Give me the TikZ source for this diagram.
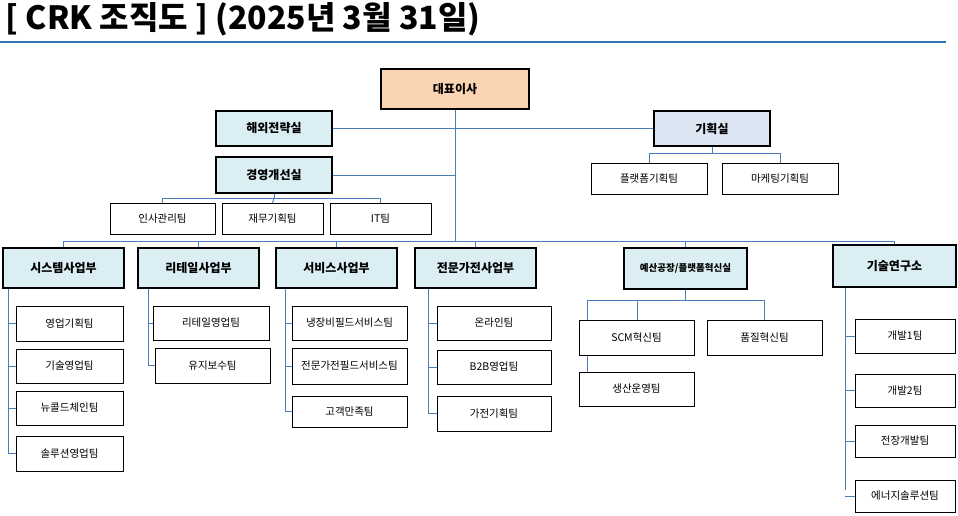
\documentclass[tikz,border=0pt]{standalone}
\usepackage{fontspec}
\setmainfont{Noto Sans CJK KR}
\usetikzlibrary{backgrounds}
\definecolor{lnc}{HTML}{4A7EBB}
\definecolor{peach}{HTML}{FBD4B4}
\definecolor{lb}{HTML}{DAEEF3}
\definecolor{lb2}{HTML}{DCE6F2}
\definecolor{titleline}{HTML}{2E75B6}
\newcommand\bx[7]{\node[#1,minimum width={(#4-#3)*1pt},minimum height={(#6-#5)*1pt}] (#2) at ({(#3+#4)/2},{(#5+#6)/2}) {#7};}
\tikzset{
 head/.style={draw=black,line width=2.4pt,fill=lb,inner sep=0,outer sep=0,font=\bfseries\fontsize{12}{14}\selectfont},
 ceob/.style={head,fill=peach},
 team/.style={draw=black,line width=0.9pt,fill=white,inner sep=0,outer sep=0,font=\fontsize{10.5}{12}\selectfont},
 ln/.style={draw=lnc,line width=1pt}
}
\begin{document}
\begin{tikzpicture}[x=1pt,y=-1pt]
\useasboundingbox (0,0) rectangle (958,516);
\node[anchor=west,font=\bfseries\fontsize{32}{36}\selectfont] (title) at (2,19) {[ CRK 조직도 ] (2025년 3월 31일)};
\draw[titleline,line width=2.5pt] (0,42) -- (946,42);
% top
\bx{ceob}{ceo}{381}{529}{69}{109}{대표이사}
\bx{head}{hw}{216}{332}{111}{146}{해외전략실}
\bx{head}{gy}{216}{332}{157}{193}{경영개선실}
\bx{head,fill=lb2}{pl}{654}{770}{111}{146}{기획실}
\bx{team}{pf}{591}{707}{163}{194}{플랫폼기획팀}
\bx{team}{mk}{722}{838}{163}{194}{마케팅기획팀}
\bx{team}{hr}{110}{215}{203}{234}{인사관리팀}
\bx{team}{fin}{222}{323}{203}{234}{재무기획팀}
\bx{team}{it}{330}{431}{203}{234}{IT팀}
% divisions
\bx{head}{sys}{3}{124}{248}{288}{시스템사업부}
\bx{head}{ret}{138}{259}{248}{288}{리테일사업부}
\bx{head}{svc}{276}{397}{248}{288}{서비스사업부}
\bx{head}{app}{415}{536}{248}{288}{전문가전사업부}
\bx{head,font=\bfseries\fontsize{9.5}{11}\selectfont}{fac}{624}{747}{248}{289}{예산공장/플랫폼혁신실}
\bx{head}{lab}{833}{956}{245}{287}{기술연구소}
% teams
\bx{team}{s1}{16}{123}{306}{341}{영업기획팀}
\bx{team}{s2}{16}{123}{349}{383}{기술영업팀}
\bx{team}{s3}{16}{123}{391}{425}{뉴콜드체인팀}
\bx{team}{s4}{16}{123}{436}{471}{솔루션영업팀}
\bx{team}{r1}{153}{269}{306}{340}{리테일영업팀}
\bx{team}{r2}{155}{270}{348}{383}{유지보수팀}
\bx{team}{v1}{292}{407}{306}{340}{냉장비필드서비스팀}
\bx{team}{v2}{292}{407}{348}{384}{전문가전필드서비스팀}
\bx{team}{v3}{292}{407}{396}{427}{고객만족팀}
\bx{team}{a1}{437}{551}{306}{340}{온라인팀}
\bx{team}{a2}{437}{551}{350}{384}{B2B영업팀}
\bx{team}{a3}{437}{551}{396}{431}{가전기획팀}
\bx{team}{f1}{579}{694}{320}{355}{SCM혁신팀}
\bx{team}{f2}{707}{822}{320}{355}{품질혁신팀}
\bx{team}{f3}{579}{694}{372}{406}{생산운영팀}
\bx{team}{l1}{855}{955}{319}{353}{개발1팀}
\bx{team}{l2}{855}{955}{374}{407}{개발2팀}
\bx{team}{l3}{855}{955}{425}{457}{전장개발팀}
\bx{team}{l4}{855}{955}{480}{512}{에너지솔루션팀}
% connectors
\begin{scope}[on background layer]
\coordinate (bus) at (455,241);
\draw[ln] (ceo.south) -- (bus);
\draw[ln] (hw.east) -- (pl.west);
\draw[ln] (gy.east) -- (gy.east -| ceo.south);
\draw[ln] (pl.south) -- ++(0,7) coordinate (pb) -| (pf.north);
\draw[ln] (pb) -| (mk.north);
\draw[ln] (gy.south) -- ++(0,5) coordinate (gb) -| (hr.north);
\draw[ln] (gb) -| (it.north);
\draw[ln] (gb) -- (fin.north);
\draw[ln] (sys.north) -- ++(0,-7) -| (lab.north);
\foreach \d in {ret,svc,app,fac} \draw[ln] (\d.north) -- (\d.north |- bus);
\draw[ln] (sys.south west) ++(5,0) coordinate (sv) |- (s4.west);
\foreach \t in {s1,s2,s3} \draw[ln] (sv |- \t.west) -- (\t.west);
\draw[ln] (ret.south west) ++(10,0) coordinate (rv) |- (r2.west);
\draw[ln] (rv |- r1.west) -- (r1.west);
\draw[ln] (svc.south west) ++(9,0) coordinate (vv) |- (v3.west);
\foreach \t in {v1,v2} \draw[ln] (vv |- \t.west) -- (\t.west);
\draw[ln] (app.south west) ++(13,0) coordinate (av) |- (a3.west);
\foreach \t in {a1,a2} \draw[ln] (av |- \t.west) -- (\t.west);
\draw[ln] (fac.south) -- ++(0,11) coordinate (fb);
\draw[ln] (fb -| f2.north) -- (587,300) |- (f3.west);
\draw[ln] (fb -| 637,0) -- (637,320);
\draw[ln] (f2.north) -- (f2.north |- fb);
\draw[ln] (lab.south west) ++(12,0) coordinate (lv) -- (lv |- 0,490);
\foreach \t in {l1,l2,l3,l4} \draw[ln] (lv |- \t.west) -- (\t.west);
\end{scope}
\end{tikzpicture}
\end{document}
